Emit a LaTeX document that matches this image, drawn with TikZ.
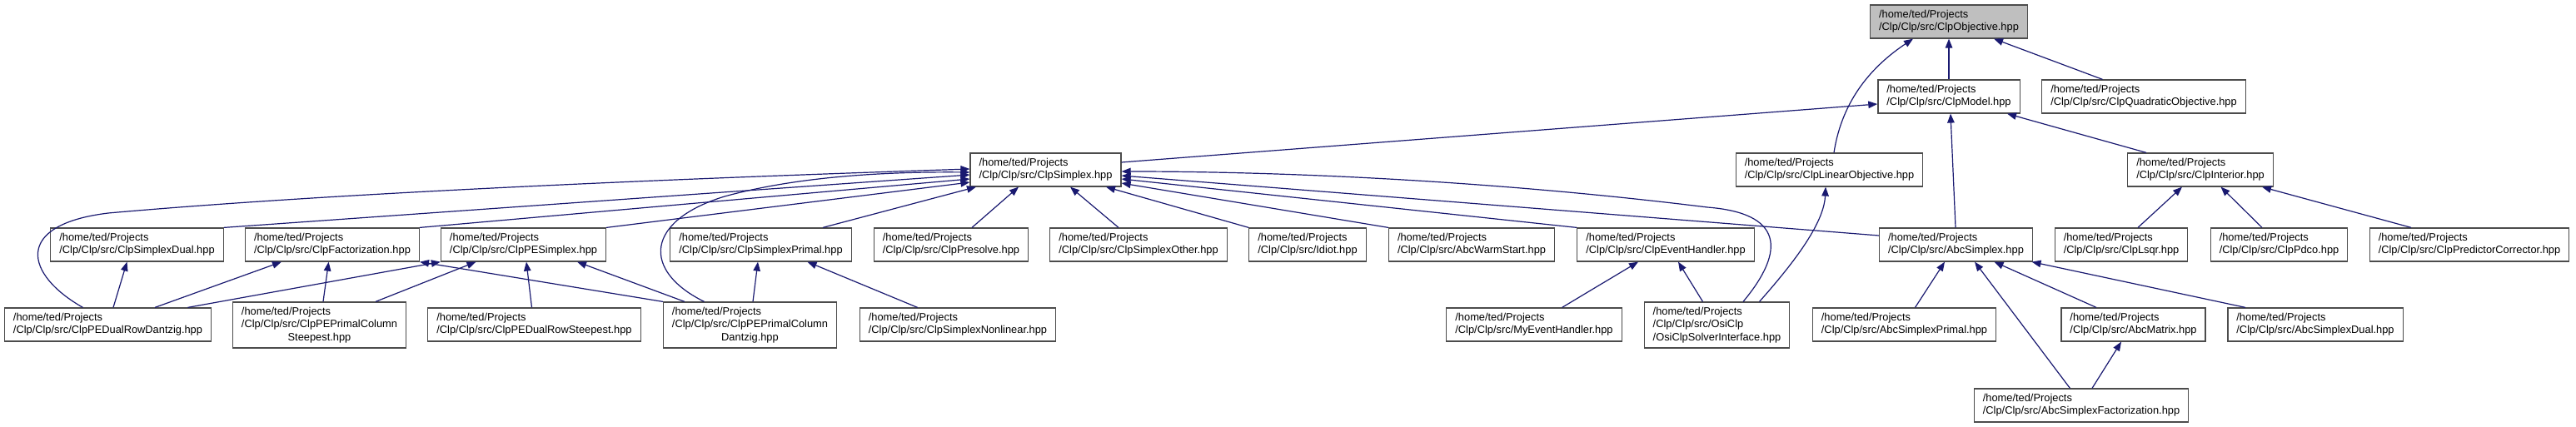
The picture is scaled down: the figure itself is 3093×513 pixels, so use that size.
\documentclass[tikz,border=0pt]{standalone}
\usepackage{fontspec}
\setmainfont{Liberation Sans}
\usetikzlibrary{arrows.meta,calc}
\definecolor{depcol}{HTML}{191970}
\definecolor{grayfill}{HTML}{BFBFBF}
\newcommand{\nodefont}{\fontsize{12.85pt}{15.5pt}\selectfont}
\newcommand{\twoline}[1]{\begin{tabular}{@{}l@{}}/home/ted/Projects\\/Clp/Clp/src/#1\end{tabular}}
\newcommand{\threeline}[2]{\begin{tabular}{@{}l@{}}/home/ted/Projects\\/Clp/Clp/src/#1\\\multicolumn{1}{@{}c@{}}{#2}\end{tabular}}
\begin{document}
\begin{tikzpicture}[x=1pt,y=-1pt,
  fbox/.style={draw=black!70, line width=1.2pt, fill=white, inner xsep=10.5pt, inner ysep=4.5pt, font=\nodefont},
  tribox/.style={fbox, inner ysep=4.25pt},
  rootbox/.style={fbox, fill=grayfill},
  dep/.style={draw=depcol, line width=1.2pt, -{Triangle[length=11pt,width=8.5pt]}}]
\fill[white] (0,0) rectangle (3093,513);
\useasboundingbox (0,0) rectangle (3093,513);
% row A
\node[rootbox] (obj) at (2340,26) {\twoline{ClpObjective.hpp}};
% row B
\node[fbox] (model) at (2340,116) {\twoline{ClpModel.hpp}};
\node[fbox] (quad) at (2574,116) {\twoline{ClpQuadraticObjective.hpp}};
% row C
\node[fbox] (simplex) at (1255.5,204) {\twoline{ClpSimplex.hpp}};
\node[fbox] (linobj) at (2196.5,204) {\twoline{ClpLinearObjective.hpp}};
\node[fbox] (interior) at (2642,204) {\twoline{ClpInterior.hpp}};
% row D
\node[fbox] (sdual) at (164.5,294) {\twoline{ClpSimplexDual.hpp}};
\node[fbox] (fact) at (399,294) {\twoline{ClpFactorization.hpp}};
\node[fbox] (pes) at (628.5,294) {\twoline{ClpPESimplex.hpp}};
\node[fbox] (sprimal) at (913.5,294) {\twoline{ClpSimplexPrimal.hpp}};
\node[fbox] (presolve) at (1142,294) {\twoline{ClpPresolve.hpp}};
\node[fbox] (sother) at (1367,294) {\twoline{ClpSimplexOther.hpp}};
\node[fbox] (idiot) at (1570,294) {\twoline{Idiot.hpp}};
\node[fbox] (warm) at (1767,294) {\twoline{AbcWarmStart.hpp}};
\node[fbox] (event) at (2000,294) {\twoline{ClpEventHandler.hpp}};
\node[fbox] (abc) at (2348.5,294) {\twoline{AbcSimplex.hpp}};
\node[fbox] (lsqr) at (2547,294) {\twoline{ClpLsqr.hpp}};
\node[fbox] (pdco) at (2736.5,294) {\twoline{ClpPdco.hpp}};
\node[fbox] (pc) at (2965,294) {\twoline{ClpPredictorCorrector.hpp}};
% row E
\node[fbox] (pedrd) at (129.5,390) {\twoline{ClpPEDualRowDantzig.hpp}};
\node[tribox] (pepcs) at (383.5,390.5) {\threeline{ClpPEPrimalColumn}{Steepest.hpp}};
\node[fbox] (pedrs) at (641.5,390) {\twoline{ClpPEDualRowSteepest.hpp}};
\node[tribox] (pepcd) at (900.5,390.5) {\threeline{ClpPEPrimalColumn}{Dantzig.hpp}};
\node[fbox] (nonlin) at (1150,390) {\twoline{ClpSimplexNonlinear.hpp}};
\node[fbox] (myev) at (1842,390) {\twoline{MyEventHandler.hpp}};
\node[tribox] (osi) at (2061.5,390.5) {\threeline{OsiClp}{/OsiClpSolverInterface.hpp}};
\node[fbox] (abcprimal) at (2286.5,390) {\twoline{AbcSimplexPrimal.hpp}};
\node[fbox] (abcmatrix) at (2561.5,390) {\twoline{AbcMatrix.hpp}};
\node[fbox] (abcdual) at (2780,390) {\twoline{AbcSimplexDual.hpp}};
% row F
\node[fbox] (abcfact) at (2499,487) {\twoline{AbcSimplexFactorization.hpp}};
% edges
\draw[dep] (model.north) -- (obj.south);
\draw[dep] ($(linobj.north)+(5.5,0)$) .. controls (2212,118) and (2250,78) .. ($(obj.south)+(-43,0)$);
\draw[dep] ($(quad.north)+(-49.5,0)$) -- ($(obj.south)+(54,0)$);
\draw[dep] ($(simplex.east)+(0,-9)$) -- ($(model.west)+(0,9)$);
\draw[dep] ($(abc.north)+(-0.5,0)$) -- ($(model.south)+(2,0)$);
\draw[dep] ($(interior.north)+(-65,0)$) -- ($(model.south)+(70,0)$);
\draw[dep] ($(lsqr.north)+(20,0)$) -- ($(interior.south)+(-22,0)$);
\draw[dep] ($(pdco.north)+(-20.5,0)$) -- ($(interior.south)+(24.5,0)$);
\draw[dep] ($(pc.north)+(-70,0)$) -- ($(interior.south)+(74,0)$);
\draw[dep] ($(abcprimal.north)+(13,0)$) -- ($(abc.south)+(-13.5,0)$);
\draw[dep] ($(abcfact.north)+(-13.6,0)$) -- ($(abc.south)+(22.5,0)$);
\draw[dep] ($(abcmatrix.north)+(-44.5,0)$) -- ($(abc.south)+(46,0)$);
\draw[dep] ($(abcdual.north)+(-84,0)$) -- ($(abc.south)+(91,0)$);
\draw[dep] ($(abcfact.north)+(13,0)$) -- ($(abcmatrix.south)+(-14.5,0)$);
\draw[dep] ($(myev.north)+(33.6,0)$) -- ($(event.south)+(-33,0)$);
\draw[dep] ($(osi.north)+(-17,0)$) -- ($(event.south)+(15,0)$);
\draw[dep] ($(osi.north)+(51,0)$) .. controls (2150,320) and (2190,270) .. ($(linobj.south)+(-4.5,0)$);
\draw[dep] ($(osi.north)+(31.5,0)$) .. controls (2145,300) and (2140,256) .. (2050,249) .. controls (1800,218) and (1550,206) .. ($(simplex.east)+(0,2)$);
\draw[dep] ($(abc.west)+(0,-11)$) -- ($(simplex.east)+(0,7)$);
\draw[dep] (event.north west) -- ($(simplex.east)+(0,11)$);
\draw[dep] (warm.north west) -- ($(simplex.east)+(0,16)$);
\draw[dep] (idiot.north west) -- ($(simplex.south)+(72.5,0)$);
\draw[dep] ($(sother.north)+(-24,0)$) -- ($(simplex.south)+(29.5,0)$);
\draw[dep] ($(presolve.north)+(25,0)$) -- ($(simplex.south)+(-32.5,0)$);
\draw[dep] ($(sprimal.north)+(74.5,0)$) -- ($(simplex.south)+(-83.5,0)$);
\draw[dep] (pes.north east) -- ($(simplex.west)+(0,15)$);
\draw[dep] (fact.north east) -- ($(simplex.west)+(0,11)$);
\draw[dep] (sdual.north east) -- ($(simplex.west)+(0,6)$);
\draw[dep] ($(pedrd.north)+(-30,0)$) .. controls (30,330) and (15,270) .. (130,256) .. controls (400,232) and (800,215) .. ($(simplex.west)+(0,-1)$);
\draw[dep] ($(pepcd.north)+(-55,0)$) .. controls (770,325) and (775,265) .. (870,236) .. controls (950,214) and (1050,206) .. ($(simplex.west)+(0,3)$);
\draw[dep] ($(pedrd.north)+(6.5,0)$) -- ($(sdual.south)+(-12,0)$);
\draw[dep] ($(pedrd.north)+(56.5,0)$) -- ($(fact.south)+(-61,0)$);
\draw[dep] ($(pedrd.north)+(96,0)$) -- (pes.south west);
\draw[dep] (pepcd.north west) -- (fact.south east);
\draw[dep] ($(pepcs.north)+(4.5,0)$) -- ($(fact.south)+(-4.4,0)$);
\draw[dep] ($(pepcs.north)+(67.5,0)$) -- ($(pes.south)+(-57,0)$);
\draw[dep] ($(pedrs.north)+(-3,0)$) -- ($(pes.south)+(3.5,0)$);
\draw[dep] ($(pepcd.north)+(-78.5,0)$) -- ($(pes.south)+(64.5,0)$);
\draw[dep] ($(pepcd.north)+(3.5,0)$) -- ($(sprimal.south)+(-3.5,0)$);
\draw[dep] ($(nonlin.north)+(-48.4,0)$) -- ($(sprimal.south)+(56,0)$);
\end{tikzpicture}
\end{document}
